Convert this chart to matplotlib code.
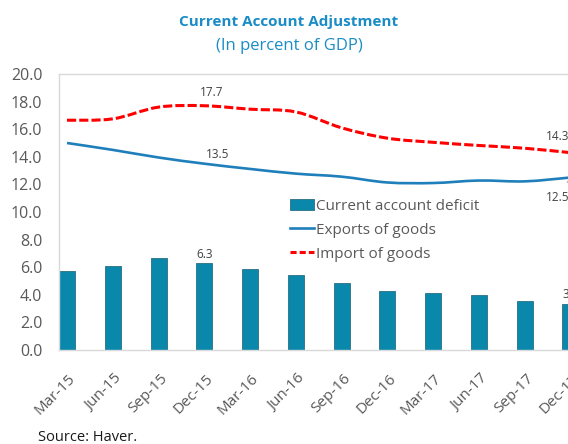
import matplotlib
matplotlib.use("Agg")
import matplotlib.pyplot as plt
import numpy as np
from matplotlib.path import Path
from matplotlib.patches import PathPatch, Patch
from matplotlib.lines import Line2D
from matplotlib.transforms import ScaledTranslation

plt.rcParams['font.family'] = ['Open Sans', 'DejaVu Sans']

categories = ['Mar-15', 'Jun-15', 'Sep-15', 'Dec-15', 'Mar-16', 'Jun-16',
              'Sep-16', 'Dec-16', 'Mar-17', 'Jun-17', 'Sep-17', 'Dec-17']
deficit = [5.75, 6.1, 6.7, 6.3, 5.9, 5.45, 4.85, 4.25, 4.1, 3.95, 3.55, 3.3]
exports = [15.0, 14.5, 13.95, 13.5, 13.12, 12.78, 12.56, 12.14, 12.1, 12.28, 12.22, 12.5]
imports = [16.65, 16.75, 17.6, 17.7, 17.45, 17.25, 16.1, 15.35, 15.05, 14.82, 14.62, 14.3]
yticks = [0, 2, 4, 6, 8, 10, 12, 14, 16, 18, 20]

BAR = '#0a88ab'
EXP = '#1f7fbb'
IMP = '#ff0000'
TXT = '#595959'
TITLE = '#1a8cc6'

fig = plt.figure(figsize=(5.68, 4.44), dpi=100)
# axes extends beyond right edge of figure (cropped reference)
ax = fig.add_axes([59/568, 94/444, 561/568, 276/444])
x = np.arange(len(categories))
ax.set_xlim(-0.175, -0.175 + 561/45.77)
ax.set_ylim(0, 20)

ax.bar(x, deficit, width=0.35, color=BAR, edgecolor='#2b6f82', linewidth=0.6, zorder=2)


def smooth_path(xs, ys):
    pts = np.column_stack([xs, ys]).astype(float)
    n = len(pts)
    verts = [pts[0]]
    codes = [Path.MOVETO]
    for i in range(n - 1):
        p0 = pts[max(i - 1, 0)]
        p1 = pts[i]
        p2 = pts[i + 1]
        p3 = pts[min(i + 2, n - 1)]
        c1 = p1 + (p2 - p0) / 6.0
        c2 = p2 - (p3 - p1) / 6.0
        verts += [c1, c2, p2]
        codes += [Path.CURVE4] * 3
    return Path(verts, codes)


ax.add_patch(PathPatch(smooth_path(x, exports), fill=False, edgecolor=EXP,
                       linewidth=1.9, zorder=3, capstyle='butt'))
ax.add_patch(PathPatch(smooth_path(x, imports), fill=False, edgecolor=IMP,
                       linewidth=2.2, linestyle=(0, (3, 1)), zorder=3, capstyle='butt'))

for s in ['left', 'top', 'bottom', 'right']:
    ax.spines[s].set_color('#d9d9d9')
    ax.spines[s].set_linewidth(1.0)

ax.set_yticks(yticks, [f'{v:.1f}' for v in yticks])
ax.tick_params(axis='y', length=0, pad=12, labelsize=11.5, labelcolor=TXT)
ax.set_xticks(x, categories)
ax.tick_params(axis='x', length=0, pad=15, labelsize=11, labelcolor=TXT)
for lbl in ax.get_xticklabels():
    lbl.set_rotation(45)
    lbl.set_ha('right')
    lbl.set_va('top')
    lbl.set_rotation_mode('anchor')
    lbl.set_transform(lbl.get_transform() + ScaledTranslation(1/100, 0, fig.dpi_scale_trans))

lab_kw = dict(fontsize=8.5, color='#404040', ha='center', va='center')
ax.annotate(f'{imports[3]:.1f}', (x[3], imports[3]), xytext=(7, 13),
            textcoords='offset pixels', **lab_kw)
ax.annotate(f'{exports[3]:.1f}', (x[3], exports[3]), xytext=(13, 9),
            textcoords='offset pixels', **lab_kw)
ax.annotate(f'{deficit[3]:.1f}', (x[3], deficit[3]), xytext=(0, 9),
            textcoords='offset pixels', **lab_kw)
ax.annotate(f'{imports[11]:.1f}', (x[11], imports[11]), xytext=(-13, 16),
            textcoords='offset pixels', annotation_clip=False,
            arrowprops=dict(arrowstyle='-', color='#a6a6a6', lw=0.8, shrinkA=5, shrinkB=2), **lab_kw)
ax.annotate(f'{exports[11]:.1f}', (x[11], exports[11]), xytext=(-13, -20),
            textcoords='offset pixels', annotation_clip=False,
            arrowprops=dict(arrowstyle='-', color='#a6a6a6', lw=0.8, shrinkA=5, shrinkB=2), **lab_kw)
ax.annotate(f'{deficit[11]:.1f}', (x[11], deficit[11]), xytext=(0, 10),
            textcoords='offset pixels', annotation_clip=False, **lab_kw)

handles = [Patch(facecolor=BAR, edgecolor='#2b6f82', linewidth=0.6),
           Line2D([], [], color=EXP, lw=1.9),
           Line2D([], [], color=IMP, lw=2.2, linestyle=(0, (2, 1)))]
labels = ['Current account deficit', 'Exports of goods', 'Import of goods']
fig.legend(handles, labels, loc='upper left', bbox_to_anchor=(290/568, 1 - 199/444),
           frameon=False, fontsize=11, handlelength=1.55, handleheight=0.75,
           handletextpad=0.15, labelspacing=0.58, borderpad=0, borderaxespad=0,
           labelcolor=TXT)

fig.text(289/568, 1 - 22/444, 'Current Account Adjustment', ha='center', va='center',
         fontsize=11, fontweight='bold', color=TITLE)
fig.text(289/568, 1 - 46/444, '(In percent of GDP)', ha='center', va='center',
         fontsize=12, color=TITLE)
fig.text(38/568, 1 - 437/444, 'Source: Haver.', ha='left', va='center',
         fontsize=10.5, color='#1a1a1a')

fig.savefig('out.png', dpi=100)
